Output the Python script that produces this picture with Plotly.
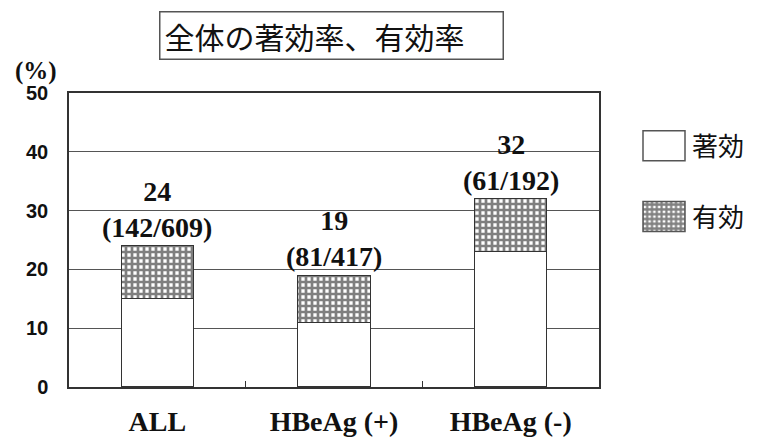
import plotly.graph_objects as go

categories = ["ALL", "HBeAg (+)", "HBeAg (-)"]
chokou = [15, 11, 23]          # 著効 (%)
yukou = [9, 8, 9]              # 有効 (%)
label_pct = [24, 19, 32]
responders = [142, 81, 61]
totals = [609, 417, 192]
y_ticks = [0, 10, 20, 30, 40, 50]

SERIF = "Liberation Serif, Times New Roman, serif"
SANS = "Liberation Sans, Arial, sans-serif"
CJK = "Noto Sans CJK JP, sans-serif"

fig = go.Figure()
fig.add_trace(go.Bar(
    x=categories, y=chokou, name="著効", width=0.41, legendgroup="a",
    marker=dict(color="white", line=dict(color="#333", width=1.2)),
))
fig.add_trace(go.Bar(
    x=categories, y=yukou, name="有効", width=0.41, legendgroup="b",
    marker=dict(color="white", line=dict(color="#333", width=1.2),
                pattern=dict(shape="+", fgcolor="#000", bgcolor="white",
                             size=6, solidity=0.7)),
))

for c, a, b, p, r, t in zip(categories, chokou, yukou, label_pct, responders, totals):
    fig.add_annotation(x=c, y=a + b, yref="y", xref="x",
                       text=f"<b>{p}</b><br><b>({r}/{t})</b>",
                       showarrow=False, yanchor="bottom", yshift=1,
                       font=dict(family=SERIF, size=28, color="#111"))

fig.add_annotation(xref="paper", yref="paper", x=(159 - 69) / 530, y=1 + (93 - 35.5) / 294,
                   text="全体の著効率、有効率", showarrow=False,
                   font=dict(family=CJK, size=30, color="#111"),
                   bordercolor="#555", borderwidth=1.5, borderpad=4,
                   width=334, height=38, align="left",
                   xanchor="left", yanchor="middle")
fig.add_annotation(xref="paper", yref="paper", x=(36 - 69) / 530, y=1 + (93 - 71) / 294,
                   text="<b>(%)</b>", showarrow=False,
                   font=dict(family=SERIF, size=25, color="#111"),
                   xanchor="center", yanchor="middle")

fig.update_layout(
    barmode="stack",
    width=757, height=446,
    margin=dict(l=69, r=158, t=93, b=59, autoexpand=False),
    plot_bgcolor="white", paper_bgcolor="white",
    showlegend=True,
    legend=dict(xref="container", yref="container", x=636 / 757, y=1 - 122.4 / 446,
                xanchor="left", yanchor="top",
                traceorder="grouped", tracegroupgap=34, itemwidth=46,
                font=dict(family=CJK, size=26, color="#111")),
    xaxis=dict(range=[-0.5, 2.5], showline=True, linecolor="#333", linewidth=1.5,
               mirror=True, ticks="inside", tickson="boundaries", ticklen=6,
               tickcolor="#333", showgrid=False,
               tickfont=dict(family=SERIF, size=28, color="#111", weight="bold"),
               ticklabelstandoff=9),
    yaxis=dict(range=[0, 50], tickvals=y_ticks, showline=True, linecolor="#333",
               linewidth=1.5, mirror=True, showgrid=True, gridcolor="#555",
               gridwidth=1, ticks="", zeroline=False,
               tickfont=dict(family=SANS, size=20, color="#111", weight="bold"),
               ticklabelstandoff=15),
)

post = """
var gd = document.getElementById('{plot_id}');
function bigSwatch() {
  gd.querySelectorAll('.legend .legendpoints path').forEach(function (p) {
    p.setAttribute('d', 'M21,15H-21V-15H21Z');
    p.style.strokeWidth = '1.5px';
    p.style.stroke = '#555';
  });
}
bigSwatch();
setTimeout(bigSwatch, 0);
gd.on('plotly_afterplot', bigSwatch);
"""

fig.write_html("out.html", post_script=post)
